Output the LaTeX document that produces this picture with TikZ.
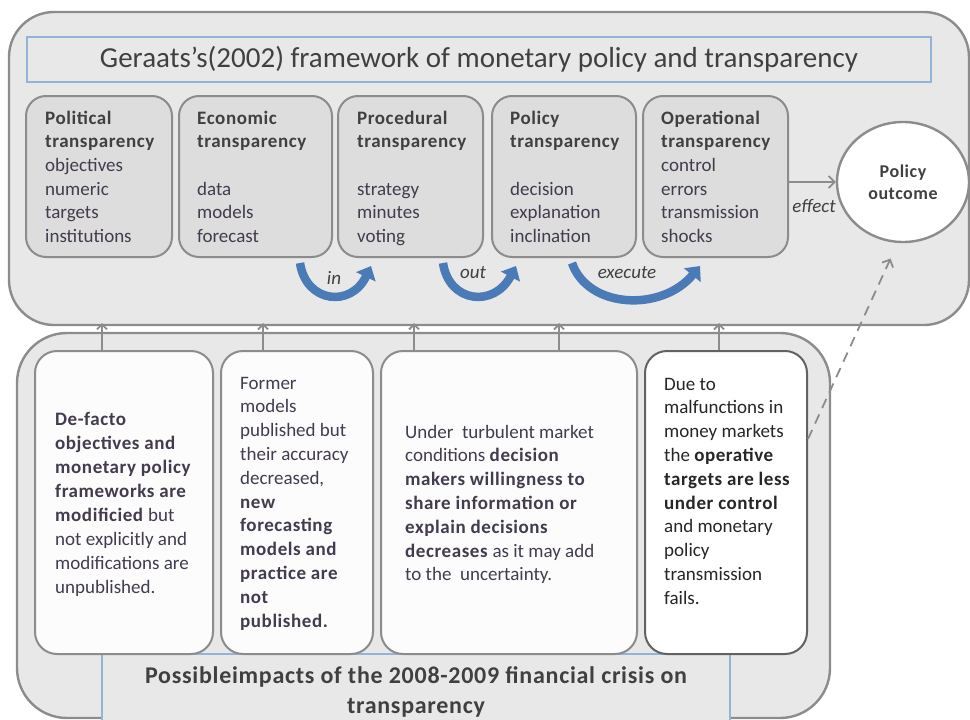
\documentclass[tikz,border=0pt]{standalone}
\usepackage{fontspec}
\setmainfont{Carlito}[BoldFeatures={LetterSpace=3}]
\usetikzlibrary{arrows.meta,calc,shapes.geometric}
\definecolor{bg}{HTML}{E8E8E8}
\definecolor{inbg}{HTML}{DDDDDD}
\definecolor{edge}{HTML}{8C8C8C}
\definecolor{titleedge}{HTML}{95B3D7}
\definecolor{txt}{HTML}{404040}
\definecolor{itemtxt}{HTML}{433B4E}
\definecolor{arrowblue}{HTML}{4A7BB7}
\definecolor{whitebox}{HTML}{FCFCFC}
\newcommand\myhd[1]{\textcolor{txt}{\textbf{#1}}}
\begin{document}
\begin{tikzpicture}[x=1pt,y=-1pt,
  bigbox/.style={draw=edge, line width=2.4pt, fill=bg, rounded corners=#1, inner sep=0},
  titlebox/.style={draw=titleedge, line width=1.2pt, fill=bg, inner sep=0},
  inbox/.style={draw=edge, line width=2pt, fill=inbg, rounded corners=20pt, minimum height=161, inner sep=0},
  wbox/.style={draw=edge, line width=2pt, fill=whitebox, rounded corners=22pt, minimum height=303, inner sep=0},
  txtblock/.style={anchor=north west, inner sep=0, align=left, font=\fontsize{19}{23.6}\selectfont, text=itemtxt},
  btxt/.style={anchor=north west, inner sep=0, align=left, font=\fontsize{19}{23.8}\selectfont, text=itemtxt},
  bluearrow/.style={draw=arrowblue, line width=8.5pt, -{Triangle[length=12pt,width=21pt]}},
  uplink/.style={draw=edge, line width=1.8pt, -{Straight Barb[length=5pt,width=10pt]}, shorten >=-3pt},
  sidelink/.style={draw=edge, line width=1.8pt, -{Straight Barb[length=6pt,width=12pt]}},
  lbl/.style={font=\fontsize{19}{22}\selectfont\itshape, text=txt, inner sep=0},
  outcome/.style={ellipse, draw=edge, line width=2.4pt, fill=white, minimum width=132, minimum height=120, inner sep=0, align=center, font=\fontsize{18}{22.5}\selectfont\bfseries, text=txt}
]
\clip (0,0) rectangle (970,720);
\useasboundingbox (0,0) rectangle (970,720);

% ---------- top framework ----------
\node[bigbox=45pt, minimum width=960, minimum height=313] (top) at (489,168.5) {};
\node[titlebox, minimum width=904, minimum height=45, font=\fontsize{29}{32}\selectfont, text=txt] (title) at (479,59.5) {Geraats's(2002) framework of monetary policy and transparency};

\node[inbox, minimum width=146] (pol)  at (99,176.5) {};
\node[inbox, minimum width=153] (eco)  at (255.5,176.5) {};
\node[inbox, minimum width=145] (proc) at (410.5,176.5) {};
\node[inbox, minimum width=144] (poli) at (564,176.5) {};
\node[inbox, minimum width=145] (oper) at (715.5,176.5) {};

\node[txtblock] (tpol) at (45,107.5) {\strut\myhd{Political}\\\myhd{transparency}\\objectives\\numeric\\targets\\institutions};
\node[txtblock] (teco) at (197,107.5) {\strut\myhd{Economic}\\\myhd{transparency}\\[23.6pt]data\\models\\forecast};
\node[txtblock] (tproc) at (357,107.5) {\strut\myhd{Procedural}\\\myhd{transparency}\\[23.6pt]strategy\\minutes\\voting};
\node[txtblock] (tpoli) at (510,107.5) {\strut\myhd{Policy}\\\myhd{transparency}\\[23.6pt]decision\\explanation\\inclination};
\node[txtblock] (toper) at (661,107.5) {\strut\myhd{Operational}\\\myhd{transparency}\\control\\errors\\transmission\\shocks};

\node[outcome] (out) at (903,182) {Policy\\outcome};

\draw[sidelink] ($(oper.east)+(0,5.5)$) -- (out.west);
\node[lbl] (leffect) at (814,206) {effect};

\draw[bluearrow] ($(eco.south east)+(-33,5)$) .. controls +(6,40) and +(-20,42) .. ($(proc.south west)+(34,8)$);
\draw[bluearrow] ($(proc.south east)+(-41,5)$) .. controls +(6,40) and +(-22,42) .. ($(poli.south west)+(25,8)$);
\draw[bluearrow] ($(poli.south east)+(-65,5)$) .. controls +(16,46) and +(-38,46) .. ($(oper.south west)+(58,8)$);
\node[lbl] (lin) at (334,278) {in};
\node[lbl] (lout) at (473,273) {out};
\node[lbl] (lexec) at (627,273) {execute};

% ---------- bottom impacts ----------
\node[bigbox=50pt, minimum width=813, minimum height=385] (bottom) at (423.5,525.5) {};
\node[titlebox, minimum width=628, minimum height=80] (btitle) at (416,694) {};
\node[anchor=north, inner sep=0, align=center, font=\fontsize{24}{30}\selectfont\bfseries, text=txt] (btitletext) at (416,662) {\strut Possibleimpacts of the 2008-2009 financial crisis on\\transparency};

\node[wbox, minimum width=178] (b1) at (124,502.5) {};
\node[wbox, minimum width=152] (b2) at (297,502.5) {};
\node[wbox, minimum width=256] (b3) at (509,502.5) {};
\node[wbox, minimum width=162, draw=edge!70!black, fill=white] (b4) at (726,502.5) {};

\node[btxt, font=\fontsize{19}{24}\selectfont] (tb1) at (55,408.2) {\strut\textbf{De-facto}\\\textbf{objectives and}\\\textbf{monetary policy}\\\textbf{frameworks are}\\\textbf{modificied} but\\not explicitly and\\modifications are\\unpublished.};
\node[btxt] (tb2) at (240,372.3) {\strut Former\\models\\published but\\their accuracy\\decreased,\\\textbf{new}\\\textbf{forecasting}\\\textbf{models and}\\\textbf{practice are}\\\textbf{not}\\\textbf{published.}};
\node[btxt] (tb3) at (405,421.3) {\strut Under\ \ turbulent market\\conditions \textbf{decision}\\\textbf{makers willingness to}\\\textbf{share information or}\\\textbf{explain decisions}\\\textbf{decreases} as it may add\\to the\ \ uncertainty.};
\node[btxt, text=black!85] (tb4) at (664,373.3) {\strut Due to\\malfunctions in\\money markets\\the \textbf{operative}\\\textbf{targets are less}\\\textbf{under control}\\and monetary\\policy\\transmission\\fails.};

% ---------- links ----------
\coordinate (u1) at ($(b1.north west)+(68,0)$);
\coordinate (u2) at ($(b2.north west)+(43,0)$);
\coordinate (u3) at ($(b3.north west)+(34,0)$);
\coordinate (u4) at ($(b3.north west)+(179,0)$);
\coordinate (u5) at ($(b4.north west)+(75,0)$);
\foreach \c in {u1,u2,u3,u4,u5} \draw[uplink] (\c) -- (\c |- top.south);

\coordinate (d1) at ($(b4.north east)+(0,89)$);
\draw[sidelink, dash pattern=on 10pt off 7pt, shorten >=17pt] (d1) -- (out.265);
\end{tikzpicture}
\end{document}
